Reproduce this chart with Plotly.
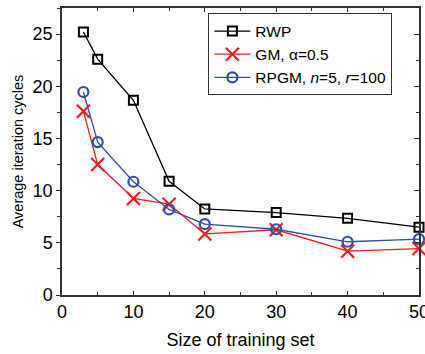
import plotly.graph_objects as go

x = [3, 5, 10, 15, 20, 30, 40, 50]
rwp = [25.2, 22.6, 18.65, 10.9, 8.25, 7.9, 7.35, 6.5]
gm = [17.6, 12.5, 9.25, 8.7, 5.85, 6.25, 4.2, 4.45]
rpgm = [19.45, 14.65, 10.85, 8.2, 6.8, 6.3, 5.1, 5.35]

names = ["RWP", "GM, \u03b1=0.5", "RPGM, <i>n</i>=5, <i>r</i>=100"]
FONT = "Liberation Sans, Arial, sans-serif"

fig = go.Figure()
fig.add_trace(go.Scatter(x=x, y=rwp, name=names[0], mode="lines+markers", cliponaxis=False,
                         line=dict(color="black", width=1.3),
                         marker=dict(symbol="square-open", size=9, color="black", line=dict(width=2))))
fig.add_trace(go.Scatter(x=x, y=gm, name=names[1], mode="lines+markers", cliponaxis=False,
                         line=dict(color="#ff1a1a", width=1.3),
                         marker=dict(symbol="x-thin-open", size=13, color="#ff1a1a", line=dict(width=2.2, color="#ff1a1a"))))
fig.add_trace(go.Scatter(x=x, y=rpgm, name=names[2], mode="lines+markers", cliponaxis=False,
                         line=dict(color="#3050a8", width=1.3),
                         marker=dict(symbol="circle-open", size=10, color="#3050a8", line=dict(width=2.2))))
# dummy trace for mirrored axes
fig.add_trace(go.Scatter(x=[0], y=[0], xaxis="x2", yaxis="y2", mode="none", showlegend=False, hoverinfo="skip"))

axcol = "#333333"
fig.update_layout(
    width=425, height=354,
    margin=dict(l=62, r=6, t=8, b=59, autoexpand=False),
    plot_bgcolor="white", paper_bgcolor="white",
    font=dict(family=FONT, size=17, color="black"),
    showlegend=True,
    legend=dict(x=0.41, y=0.981, xanchor="left", yanchor="top",
                bordercolor="#333333", borderwidth=1, bgcolor="white",
                font=dict(size=15.5), tracegroupgap=0, itemwidth=36),
    xaxis=dict(range=[0, 50], dtick=10, ticks="inside", ticklen=4, tickwidth=1.2, tickcolor=axcol,
               showline=True, linecolor=axcol, linewidth=1.5, showgrid=False, zeroline=False, automargin=False,
               ticklabeloverflow="allow",
               minor=dict(dtick=5, ticks="inside", ticklen=3, tickcolor=axcol),
               title=dict(text="Size of training set", font=dict(size=18), standoff=12),
               tickfont=dict(size=18)),
    yaxis=dict(range=[0, 27.5], dtick=5, ticks="outside", ticklen=4, tickwidth=1.2, tickcolor=axcol,
               showline=True, linecolor=axcol, linewidth=1.5, showgrid=False, zeroline=False, automargin=False,
               ticklabeloverflow="allow",
               minor=dict(dtick=2.5, ticks="outside", ticklen=3, tickcolor=axcol),
               title=dict(text="Average iteration cycles", font=dict(size=14.5), standoff=6),
               tickfont=dict(size=18)),
    xaxis2=dict(range=[0, 50], overlaying="x", side="top", anchor="y2", dtick=10, ticks="inside", ticklen=4,
                tickcolor=axcol, showticklabels=False, showline=True, linecolor=axcol, linewidth=1.5, automargin=False,
                showgrid=False, zeroline=False, minor=dict(dtick=5, ticks="inside", ticklen=3, tickcolor=axcol)),
    yaxis2=dict(range=[0, 27.5], overlaying="y", side="right", anchor="x2", dtick=5, ticks="inside", ticklen=5,
                tickcolor=axcol, showticklabels=False, showline=True, linecolor=axcol, linewidth=1.5, automargin=False,
                showgrid=False, zeroline=False, minor=dict(dtick=2.5, ticks="inside", ticklen=3, tickcolor=axcol)),
)

fig.write_html("out.html", config={"displayModeBar": False},
               post_script="document.body.style.margin='0px';")
